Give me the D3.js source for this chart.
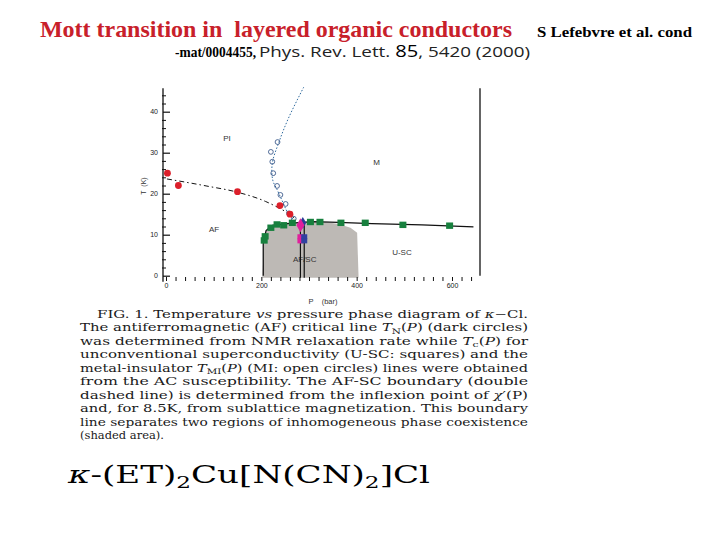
<!DOCTYPE html>
<html><head><meta charset="utf-8">
<script src="https://cdn.jsdelivr.net/npm/d3@7"></script>
<style>body{margin:0;background:#fff}svg{display:block}</style>
</head><body>
<svg id="c" width="720" height="540"></svg>
<script>
// ---- data (P in bar, T in K) ----
const afP = [3, 26, 150, 239, 260];
const afT = [25, 22, 20.5, 17.1, 15];
const afLineP = [2, 84, 152, 209, 237, 265, 272];
const afLineT = [23.6, 21.9, 20.3, 18.1, 16.5, 14.5, 13.7];
const miLineP = [289, 258, 237, 223, 224, 233, 244, 254, 268];
const miLineT = [46, 38.7, 32.6, 27.4, 23.3, 21, 18.2, 15.7, 13.6];
const miP = [234, 220, 223, 225, 233, 240, 251, 258, 268];
const miT = [32.6, 30.2, 27.8, 25, 21.9, 19.7, 17.5, 15.2, 13.9];
const scP = [206, 208, 220, 233, 247, 265, 303, 323, 367, 418, 497, 595];
const scT = [8.6, 9.6, 11.7, 12.5, 12.3, 12.9, 13.1, 13.1, 12.9, 12.9, 12.4, 12.2];
const scLineP = [204, 204, 210, 223, 265, 307, 362, 432, 537, 645];
const scLineT = [0, 8, 11, 12.3, 12.8, 13.2, 13.0, 12.7, 12.4, 11.9];
const shadeP = [202, 206, 212, 229, 271, 334, 362, 387, 401, 404];
const shadeT = [-0.5, 8.5, 11.3, 12.5, 13.1, 13.1, 12.6, 11.7, 10.5, -0.5];
const boundaryP = [282, 290];
const boundaryTop = [12.5, 12.8];
const mixP = [282, 282, 290, 290];
const mixT = [9.5, 8.5, 9.5, 8.5];
const mixKind = ["m", "m", "b", "b"];
const regionNames = ["PI", "M", "AF", "AF/SC", "U-SC"];
const regionP = [128, 442, 101, 291, 495];
const regionT = [33.5, 27.7, 11.5, 4, 5.7];
const yTicks = [0, 10, 20, 30, 40];
const xTickLabels = [0, 200, 400, 600];

const captionLines = [
  ["FIG. 1. Temperature ", ["vs", "i"], " pressure phase diagram of ", ["κ", "i"], "−Cl."],
  ["The antiferromagnetic (AF) critical line ", ["T", "i"], ["N", "s"], "(", ["P", "i"], ") (dark circles)"],
  ["was determined from NMR relaxation rate while ", ["T", "i"], ["c", "s"], "(", ["P", "i"], ") for"],
  ["unconventional superconductivity (U-SC: squares) and the"],
  ["metal-insulator ", ["T", "i"], ["MI", "s"], "(", ["P", "i"], ") (MI: open circles) lines were obtained"],
  ["from the AC susceptibility.  The AF-SC boundary (double"],
  ["dashed line) is determined from the inflexion point of ", ["χ", "i"], "′(P)"],
  ["and, for 8.5K, from sublattice magnetization. This boundary"],
  ["line separates two regions of inhomogeneous phase coexistence"],
  ["(shaded area)."]
];

const svg = d3.select("#c");
const x = d3.scaleLinear().domain([0, 600]).range([166, 452]);
const y = d3.scaleLinear().domain([0, 40]).range([275.7, 111.7]);
const zip = (a, b) => a.map((v, i) => [v, b[i]]);
const line = d3.line().x(d => x(d[0])).y(d => y(d[1]));

// ---- title block ----
svg.append("text").attr("x", 40).attr("y", 37)
  .attr("font-family", "Liberation Serif").attr("font-weight", "bold")
  .attr("font-size", 23.5).attr("fill", "#c8202a").style("white-space", "pre")
  .attr("textLength", 472).attr("lengthAdjust", "spacingAndGlyphs")
  .text("Mott transition in  layered organic conductors");
svg.append("text").attr("x", 537).attr("y", 37)
  .attr("font-family", "Liberation Serif").attr("font-weight", "bold")
  .attr("font-size", 14).attr("fill", "#000")
  .attr("textLength", 155).attr("lengthAdjust", "spacingAndGlyphs")
  .text("S Lefebvre et al. cond");
svg.append("text").attr("x", 175).attr("y", 57)
  .attr("font-family", "Liberation Serif").attr("font-weight", "bold")
  .attr("font-size", 14).attr("fill", "#000")
  .attr("textLength", 81).attr("lengthAdjust", "spacingAndGlyphs")
  .text("-mat/0004455,");
const ref = svg.append("text").attr("x", 259).attr("y", 57)
  .attr("font-family", "Open Sans").attr("font-size", 14.5).attr("fill", "#222")
  .attr("textLength", 271).attr("lengthAdjust", "spacingAndGlyphs");
ref.append("tspan").text("Phys. Rev. Lett. ");
ref.append("tspan").attr("font-size", 15.5).attr("fill", "#000").text("85");
ref.append("tspan").text(", 5420 (2000)");

// ---- plot ----
const plot = svg.append("g");
plot.append("path")
  .datum(zip(shadeP, shadeT).concat([[shadeP[0], shadeT[0]]]))
  .attr("d", line).attr("fill", "#bdb9b5").attr("stroke", "none");

// axes
const yMajor = d3.axisRight(y).tickValues(yTicks).tickSize(7).tickFormat(d3.format("d"));
const gy = plot.append("g").attr("transform", "translate(163,0)").call(yMajor);
gy.select(".domain").remove();
gy.selectAll("line").attr("stroke", "#111").attr("stroke-width", 1.2);
gy.selectAll("text").attr("x", -5).attr("text-anchor", "end")
  .attr("font-family", "Liberation Sans").attr("font-size", 7).attr("fill", "#222");
const yMinor = d3.axisRight(y).tickValues(d3.range(0, 46, 2).filter(v => v % 10)).tickSize(4).tickFormat("");
const gy2 = plot.append("g").attr("transform", "translate(162,0)").call(yMinor);
gy2.select(".domain").remove();
gy2.selectAll("line").attr("stroke", "#111").attr("stroke-width", 1);
plot.append("line").attr("x1", 163).attr("x2", 163)
  .attr("y1", y(45.7)).attr("y2", y(-1.5)).attr("stroke", "#111").attr("stroke-width", 1.3);
plot.append("line").attr("x1", 480).attr("x2", 480)
  .attr("y1", y(45.7)).attr("y2", y(0)).attr("stroke", "#111").attr("stroke-width", 1.3);

const xAx = d3.axisBottom(x).tickValues(d3.range(0, 641, 20)).tickSize(4)
  .tickFormat(d => xTickLabels.includes(d) ? d : "");
const gx = plot.append("g").attr("transform", "translate(0,277)").call(xAx);
gx.select(".domain").remove();
gx.selectAll("line").attr("stroke", "#111").attr("stroke-width", 1);
gx.selectAll("text").attr("y", 6).attr("font-family", "Liberation Sans")
  .attr("font-size", 7).attr("fill", "#222");

plot.append("text").attr("transform", "translate(146,186) rotate(-90)")
  .attr("text-anchor", "middle").attr("font-family", "Liberation Sans")
  .attr("font-size", 7).attr("fill", "#333").style("white-space", "pre").text("T  (K)");
plot.append("text").attr("x", 323).attr("y", 304).attr("text-anchor", "middle")
  .attr("font-family", "Liberation Sans").attr("font-size", 7.5).attr("fill", "#333")
  .style("white-space", "pre").text("P    (bar)");

// region labels
plot.selectAll(".rl").data(regionNames).join("text")
  .attr("x", (d, i) => x(regionP[i])).attr("y", (d, i) => y(regionT[i]) + 3)
  .attr("text-anchor", "middle").attr("font-family", "Liberation Sans")
  .attr("font-size", 8).attr("fill", "#333").text(d => d);

// SC line
plot.append("path").datum(zip(scLineP, scLineT)).attr("d", line)
  .attr("fill", "none").attr("stroke", "#111").attr("stroke-width", 1.3);
// AF-SC double boundary
boundaryP.forEach((p, i) => {
  plot.append("line").attr("x1", x(p)).attr("x2", x(p))
    .attr("y1", y(-0.5)).attr("y2", y(boundaryTop[i]))
    .attr("stroke", "#111").attr("stroke-width", 1.2);
});
// AF line (dash-dot)
plot.append("path").datum(zip(afLineP, afLineT))
  .attr("d", d3.line().x(d => x(d[0])).y(d => y(d[1])).curve(d3.curveMonotoneX))
  .attr("fill", "none").attr("stroke", "#111").attr("stroke-width", 1)
  .attr("stroke-dasharray", "5,3,1.5,3");
// MI line (dotted blue)
plot.append("path").datum(zip(miLineP, miLineT))
  .attr("d", d3.line().x(d => x(d[0])).y(d => y(d[1])).curve(d3.curveCatmullRom))
  .attr("fill", "none").attr("stroke", "#2e6a9e").attr("stroke-width", 1)
  .attr("stroke-dasharray", "1.5,1.8");

// markers
plot.selectAll(".mi").data(zip(miP, miT)).join("circle")
  .attr("cx", d => x(d[0])).attr("cy", d => y(d[1])).attr("r", 2.4)
  .attr("fill", "none").attr("stroke", "#2a4a80").attr("stroke-width", 0.8);
plot.selectAll(".af").data(zip(afP, afT)).join("circle")
  .attr("cx", d => x(d[0])).attr("cy", d => y(d[1])).attr("r", 3.4)
  .attr("fill", "#dc1f2a");
plot.selectAll(".sc").data(zip(scP, scT)).join("rect")
  .attr("x", d => x(d[0]) - 3.5).attr("y", d => y(d[1]) - 3.2)
  .attr("width", 7).attr("height", 6.4).attr("fill", "#17803e");
plot.selectAll(".mx").data(zip(mixP, mixT)).join("rect")
  .attr("x", d => x(d[0]) - 3).attr("y", d => y(d[1]) - 2.5)
  .attr("width", 6).attr("height", 5)
  .attr("fill", (d, i) => mixKind[i] === "m" ? "#e0209c" : "#3040a0");
plot.append("path").attr("d", d3.symbol(d3.symbolDiamond, 40)())
  .attr("transform", `translate(${x(287)},${y(12.9)})`).attr("fill", "#2c3c98");
plot.append("path").attr("d", d3.symbol(d3.symbolDiamond, 55)())
  .attr("transform", `translate(${x(282)},${y(12.3)})`).attr("fill", "#e0209c");

// ---- caption ----
const cap = svg.append("g").attr("font-family", "DejaVu Serif").attr("font-size", 10.6).attr("fill", "#1a1a1a");
captionLines.forEach((parts, i) => {
  const first = i === 0, last = i === captionLines.length - 1;
  const x0 = first ? 97 : 80;
  const t = cap.append("text").attr("x", x0).attr("y", 318 + i * 13.45);
  if (!last) t.attr("textLength", 528 - x0).attr("lengthAdjust", "spacingAndGlyphs");
  else t.attr("font-size", 11.5);
  let shift = 0;
  parts.forEach(p => {
    let ts;
    if (typeof p === "string") ts = t.append("tspan").text(p);
    else if (p[1] === "i") ts = t.append("tspan").attr("font-style", "italic").text(p[0]);
    else { ts = t.append("tspan").attr("font-size", 7.5).text(p[0]); ts.attr("dy", 2.5); shift = 2.5; return; }
    if (shift) { ts.attr("dy", -shift); shift = 0; }
  });
});

// ---- formula ----
const f = svg.append("text").attr("x", 68).attr("y", 483)
  .attr("font-family", "DejaVu Serif").attr("font-size", 25).attr("fill", "#000")
  .attr("textLength", 362).attr("lengthAdjust", "spacingAndGlyphs");
f.append("tspan").attr("font-style", "italic").text("κ");
f.append("tspan").text("-(ET)");
f.append("tspan").attr("font-size", 17).attr("dy", 5).text("2");
f.append("tspan").attr("dy", -5).text("Cu[N(CN)");
f.append("tspan").attr("font-size", 17).attr("dy", 5).text("2");
f.append("tspan").attr("dy", -5).text("]Cl");
</script>
</body></html>
